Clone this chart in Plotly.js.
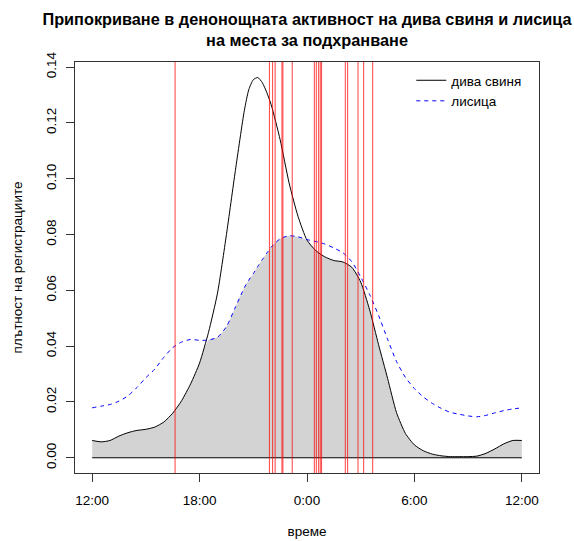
<!DOCTYPE html>
<html>
<head>
<meta charset="utf-8">
<script src="https://cdn.plot.ly/plotly-3.0.1.min.js"></script>
<style>
  html, body { margin: 0; padding: 0; background: #fff; }
  #chart { width: 574px; height: 541px; }
</style>
</head>
<body>
<div id="chart"></div>
<script>
// Time axis runs from 12:00 one day to 12:00 the next (hours 12..36)
const hours = [
  12.0, 12.5, 13.0, 13.5, 14.0, 14.5, 15.0, 15.5, 16.0, 16.5,
  17.0, 17.5, 18.0, 18.5, 19.0, 19.5, 20.0, 20.5, 20.75, 21.0,
  21.25, 21.5, 21.75, 22.0, 22.5, 23.0, 23.5, 24.0, 24.5, 25.0,
  25.5, 26.0, 26.5, 27.0, 27.5, 28.0, 28.5, 29.0, 29.5, 30.0,
  30.5, 31.0, 31.5, 32.0, 32.5, 33.0, 33.5, 34.0, 34.5, 35.0,
  35.5, 36.0
];

// Kernel density of detections: wild boar
const boarDensity = [
  0.0062, 0.0057, 0.0062, 0.0078, 0.0090, 0.0098, 0.0102, 0.0110, 0.0128, 0.0160,
  0.0205, 0.0265, 0.0340, 0.0450, 0.0590, 0.0800, 0.1030, 0.1245, 0.1320, 0.1355,
  0.1363, 0.1345, 0.1310, 0.1265, 0.1140, 0.0985, 0.0865, 0.0780, 0.0742, 0.0720,
  0.0707, 0.0702, 0.0683, 0.0630, 0.0530, 0.0405, 0.0285, 0.0162, 0.0087, 0.0046,
  0.0025, 0.0013, 0.0007, 0.0004, 0.0004, 0.0004, 0.0006, 0.0016, 0.0032, 0.0050,
  0.0062, 0.0062
];

// Kernel density of detections: red fox
const foxDensity = [
  0.0179, 0.0185, 0.0191, 0.0203, 0.0222, 0.0252, 0.0287, 0.0318, 0.0360, 0.0395,
  0.0415, 0.0424, 0.0421, 0.0422, 0.0432, 0.0470, 0.0540, 0.0610, 0.0637, 0.0660,
  0.0686, 0.0710, 0.0733, 0.0755, 0.0785, 0.0796, 0.0792, 0.0782, 0.0775, 0.0766,
  0.0752, 0.0735, 0.0703, 0.0648, 0.0585, 0.0510, 0.0425, 0.0345, 0.0288, 0.0248,
  0.0218, 0.0195, 0.0177, 0.0163, 0.0156, 0.0150, 0.0147, 0.0152, 0.0161, 0.0169,
  0.0175, 0.0179
];

// Clock times (decimal hours) of the marked events
const eventTimes = [
  16.63, 21.90, 22.08, 22.22, 22.60, 22.655, 23.175,
  0.41, 0.52, 0.65, 0.74, 0.815, 2.14, 2.27, 2.85, 3.165, 3.67
];

const tickHours = [12, 18, 24, 30, 36];
const tickLabels = ['12:00', '18:00', '0:00', '6:00', '12:00'];
const yTicks = [0, 0.02, 0.04, 0.06, 0.08, 0.10, 0.12, 0.14];

const seriesNames = ['дива свиня', 'лисица'];

// Overlap = pointwise minimum of the two densities
const overlap = hours.map((h, i) => Math.min(boarDensity[i], foxDensity[i]));

// Put morning times after midnight onto the 12..36 axis
const eventAxis = eventTimes.map(t => (t < 12 ? t + 24 : t));

const traces = [
  {
    x: hours, y: overlap, type: 'scatter', mode: 'lines',
    line: { width: 0, shape: 'spline', smoothing: 0.6 },
    fill: 'tozeroy', fillcolor: '#d3d3d3',
    hoverinfo: 'skip', showlegend: false
  },
  {
    x: [hours[0], hours[hours.length - 1]], y: [0, 0],
    type: 'scatter', mode: 'lines',
    line: { color: '#000', width: 1 },
    hoverinfo: 'skip', showlegend: false
  },
  {
    x: hours, y: boarDensity, type: 'scatter', mode: 'lines',
    name: seriesNames[0],
    line: { color: '#000', width: 1, shape: 'spline', smoothing: 0.6 }
  },
  {
    x: hours, y: foxDensity, type: 'scatter', mode: 'lines',
    name: seriesNames[1],
    line: { color: '#0000ff', width: 1, dash: '4px,4px', shape: 'spline', smoothing: 0.6 }
  }
];

const shapes = eventAxis.map(h => ({
  type: 'line', xref: 'x', yref: 'paper',
  x0: h, x1: h, y0: 0, y1: 1,
  line: { color: 'rgba(255,0,0,0.75)', width: 1 },
  layer: 'above'
}));

const font = { family: 'Liberation Sans, Arial, sans-serif', color: '#000' };
const baseSize = 13.5;

const layout = {
  width: 574, height: 541,
  margin: { l: 75, r: 35, t: 62, b: 68 },
  paper_bgcolor: '#fff', plot_bgcolor: '#fff',
  font: Object.assign({ size: baseSize }, font),
  title: {
    text: '<b>Припокриване в денонощната активност на дива свиня и лисица<br>на места за подхранване</b>',
    font: Object.assign({ size: 16.3 }, font),
    x: 0.5, xref: 'paper', xanchor: 'center',
    y: 1 - 25 / 541, yref: 'container', yanchor: 'top'
  },
  xaxis: {
    range: [11.04, 36.96],
    tickvals: tickHours, ticktext: tickLabels,
    ticks: 'outside', ticklen: 8, tickwidth: 1, tickcolor: '#333',
    showline: true, linecolor: '#333', linewidth: 1, mirror: true,
    showgrid: false, zeroline: false,
    ticklabelstandoff: 7,
    tickfont: Object.assign({ size: baseSize }, font),
    title: { text: 'време', font: Object.assign({ size: baseSize }, font), standoff: 19 }
  },
  yaxis: {
    range: [-0.00546, 0.14186],
    tickvals: yTicks, tickformat: '.2f', tickangle: -90,
    ticks: 'outside', ticklen: 8, tickwidth: 1, tickcolor: '#333',
    showline: true, linecolor: '#333', linewidth: 1, mirror: true,
    showgrid: false, zeroline: false,
    ticklabelstandoff: 5,
    tickfont: Object.assign({ size: baseSize }, font),
    title: { text: 'плътност на регистрациите', font: Object.assign({ size: baseSize }, font), standoff: 17 }
  },
  legend: {
    x: (411 - 75) / (538.6 - 75), xanchor: 'left',
    y: 1 - 3 / 411, yanchor: 'top',
    bgcolor: 'rgba(0,0,0,0)', borderwidth: 0,
    font: Object.assign({ size: baseSize }, font),
    tracegroupgap: 0
  },
  shapes: shapes,
  showlegend: true
};

Plotly.newPlot('chart', traces, layout, { displayModeBar: false, staticPlot: true });
</script>
</body>
</html>
